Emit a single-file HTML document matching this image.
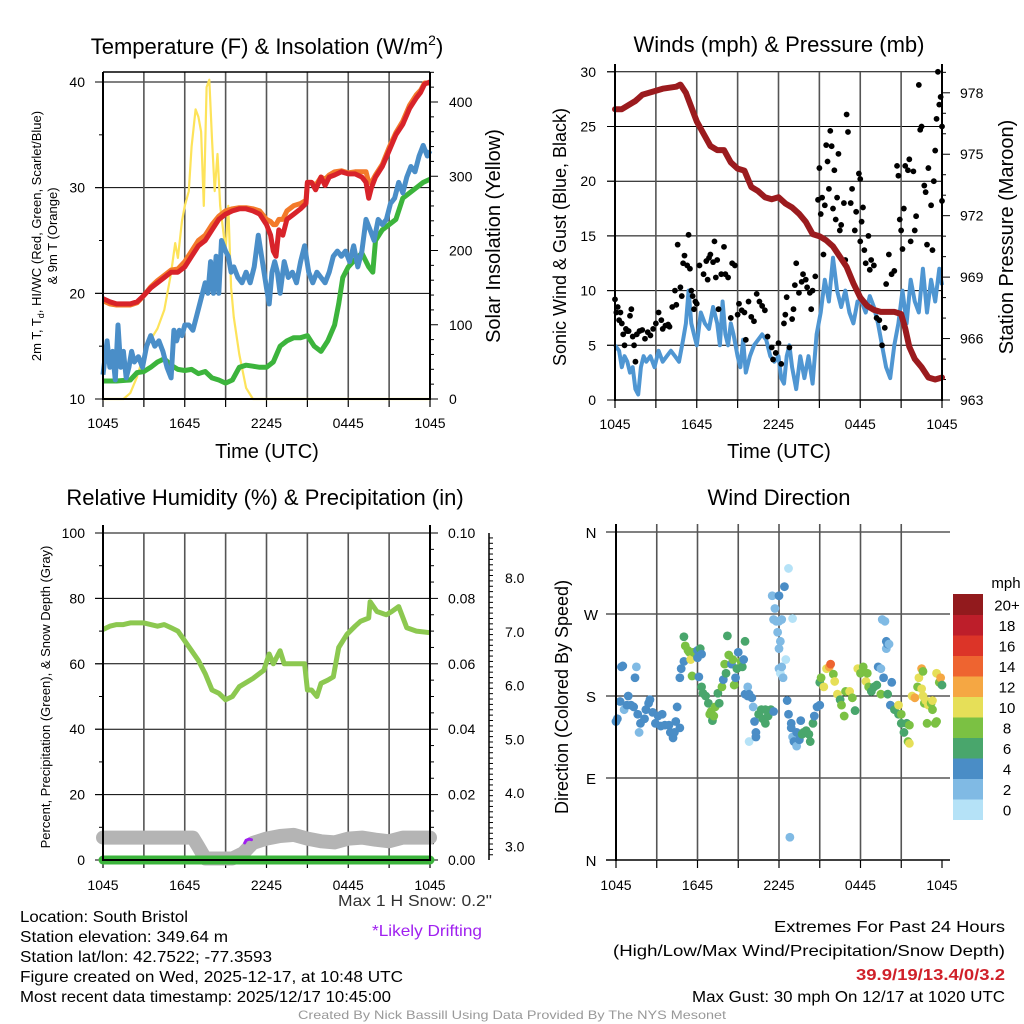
<!DOCTYPE html>
<html><head><meta charset="utf-8"><style>
html,body{margin:0;padding:0;background:#fff;}
svg{display:block;font-family:"Liberation Sans",Arial,sans-serif;}
</style></head><body>
<svg id="fig" width="1024" height="1024" viewBox="0 0 1024 1024" xmlns="http://www.w3.org/2000/svg">
<rect width="1024" height="1024" fill="#fff"/>
<g id="g1"></g>
<g id="g2"></g>
<g id="g3"></g>
<g id="g4"></g>
<g id="foot">
<text x="20" y="922" font-size="16" textLength="168" lengthAdjust="spacingAndGlyphs">Location: South Bristol</text>
<text x="20" y="942" font-size="16" textLength="208" lengthAdjust="spacingAndGlyphs">Station elevation: 349.64 m</text>
<text x="20" y="962" font-size="16" textLength="252" lengthAdjust="spacingAndGlyphs">Station lat/lon: 42.7522; -77.3593</text>
<text x="20" y="982" font-size="16" textLength="383" lengthAdjust="spacingAndGlyphs">Figure created on Wed, 2025-12-17, at 10:48 UTC</text>
<text x="20" y="1002" font-size="16" textLength="371" lengthAdjust="spacingAndGlyphs">Most recent data timestamp: 2025/12/17 10:45:00</text>
<text x="492" y="906" font-size="16" text-anchor="end" fill="#333" textLength="154" lengthAdjust="spacingAndGlyphs">Max 1 H Snow: 0.2"</text>
<text x="427" y="936" font-size="16" text-anchor="middle" fill="#a020f0" textLength="110" lengthAdjust="spacingAndGlyphs">*Likely Drifting</text>
<text x="1005" y="932" font-size="16" text-anchor="end" textLength="231" lengthAdjust="spacingAndGlyphs">Extremes For Past 24 Hours</text>
<text x="1005" y="956" font-size="16" text-anchor="end" textLength="392" lengthAdjust="spacingAndGlyphs">(High/Low/Max Wind/Precipitation/Snow Depth)</text>
<text x="1005" y="980" font-size="16" font-weight="bold" fill="#d0212a" text-anchor="end" textLength="149" lengthAdjust="spacingAndGlyphs">39.9/19/13.4/0/3.2</text>
<text x="1005" y="1002" font-size="16" text-anchor="end" textLength="313" lengthAdjust="spacingAndGlyphs">Max Gust: 30 mph On 12/17 at 1020 UTC</text>
<text x="512" y="1019" font-size="12" fill="#999" text-anchor="middle" textLength="428" lengthAdjust="spacingAndGlyphs">Created By Nick Bassill Using Data Provided By The NYS Mesonet</text>
</g>
</svg>
<script>
// ---------- DATA ----------
const xTickLabels = ["1045","1645","2245","0445","1045"];
// Panel 1
const tHours = [0,0.5,1,1.5,2,2.5,3,3.5,4,4.5,5,5.5,6,6.5,7,7.5,8,8.5,9,9.5,10,10.5,11,11.5,12,12.3,12.5,12.7,12.9,13.2,13.5,14,14.5,14.9,15,15.3,15.6,16,16.3,16.6,17,17.5,18,18.5,19,19.3,19.5,19.7,20,20.5,21,21.5,22,22.5,23,23.3,23.6,24];
const temp2m = [19.5,19.2,19,19,19,19.2,19.8,20.5,21,21.5,22,22,22.5,23.5,24.5,25,26,27,27.5,27.8,28,28,27.8,27.5,26.5,25.5,24,23.5,26,25.5,27,27.5,28,28.5,30.5,30.5,29.8,31,30.2,31,31.2,31.5,31.3,31.3,31,30.5,29,30,31,32,33.5,35,36,37.5,38.5,39,39.8,40];
const temp9m = [19.3,19,18.9,18.9,18.9,19.1,19.8,20.6,21.2,21.7,22.2,22.3,23,24,25,25.5,26.5,27.3,27.8,28,28.1,28.1,28,27.8,27,26.8,26.5,26.5,27,27,27.8,28.3,28.5,28.8,30.5,30.5,30.2,31,30.8,31.2,31.5,31.6,31.4,31.5,31.5,31.5,30.5,30.5,31.2,32.2,33.8,35.2,36.3,37.8,38.8,39.2,39.9,39.9];
const dHours = [0,1,2,2.5,3,3.5,4,4.5,5,5.5,6,6.5,7,7.5,8,8.5,9,9.5,10,10.5,11,11.5,12,12.5,13,13.5,14,14.5,15,15.5,16,16.5,17,17.3,17.6,18,18.5,19,19.5,19.8,20,20.5,21,21.5,22,22.5,23,23.5,24];
const dewpoint = [11.7,11.7,11.8,12.5,12.6,13,13.5,13.8,13.2,12.8,12.7,12.8,12.4,12.6,12,11.8,11.5,11.8,13,13.2,13.1,13,13,13.5,15,15.5,15.8,15.8,16,15,14.5,15.5,17,19,21.5,22.5,23.2,23.8,22.5,22,25,26,26.5,27,29,29.5,30,30.5,30.8];
const fHours = [0,0.3,0.5,0.7,0.9,1.1,1.3,1.5,1.7,1.9,2.1,2.3,2.6,2.9,3.2,3.5,3.8,4.1,4.4,4.7,5.0,5.2,5.4,5.6,5.8,6.0,6.3,6.6,6.9,7.2,7.5,7.7,7.9,8.1,8.3,8.5,8.7,9.0,9.2,9.4,9.6,9.9,10.2,10.5,10.8,11.1,11.4,11.7,12.0,12.2,12.4,12.6,12.8,13.0,13.3,13.6,13.9,14.2,14.5,14.8,15.1,15.4,15.7,16.0,16.3,16.6,16.9,17.2,17.5,17.8,18.1,18.4,18.7,19.0,19.3,19.6,19.9,20.2,20.5,20.8,21.1,21.4,21.7,22.0,22.3,22.6,22.9,23.2,23.5,23.8,24];
const windChill = [12.3,15.5,13,14.5,11.8,17,13,14.5,12,13,14.5,13.5,14,13,15,16,15,15.5,14.5,13,12,16.5,15.5,16.5,16,17,17,16.5,18,19.5,21,20,23,20,23.5,20,25,24,23.5,22,22.5,21.5,21,22,21,22.5,25.5,23,20.5,19,22,23,22,20,23,21.5,22,21,23,24.5,22,21,22,21.5,21,22,23.5,24,23.5,24,23,24.5,22.5,24,27,26,25,27,26.5,27,28.5,29,30.5,29.5,31,32,31.5,33,34,33,33.5];
const sHours = [0,1.5,2,2.5,3,3.5,4,4.5,5,5.3,5.5,5.8,6,6.3,6.5,6.8,7,7.2,7.4,7.6,7.8,8,8.2,8.4,8.6,8.8,9,9.2,9.4,9.6,10,10.5,11,24];
const solar = [0,0,8,30,60,80,95,120,170,210,190,240,260,280,340,390,380,360,260,420,430,350,280,330,260,230,200,260,150,110,60,15,0,0];
// Panel 2
const windSpeed = [5,4.5,3,4,3.5,2.5,3,1,0.5,3,4,3.5,4,3,4.5,3.5,4,4.5,4,3.5,5.5,7,10,7,6,5,8,7,6.5,8.5,7,5,9,6,5,7,6,4,3,5.5,2.5,4,5,5.5,6,5.5,4,3.5,4,2,1.5,4,5,3,1,4,2,4,1.5,6,8,11,9,13,10,8.5,10,8,7,9,9,8,9.5,8.5,7,5,3,2,5,7,10,7,11,9,8,12,8,11,9,12,10.5];
const gustHours = [0,0.1,0.2,0.3,0.4,0.5,0.6,0.7,0.8,0.9,1.0,1.1,1.2,1.3,1.4,1.5,1.6,1.8,2.0,2.2,2.4,2.6,2.8,3.0,3.2,3.4,3.5,3.7,3.9,4.0,4.2,4.4,4.5,4.6,4.8,4.9,5.0,5.1,5.3,5.4,5.5,5.6,5.7,5.8,5.9,6.0,6.2,6.5,6.7,6.8,6.9,7.0,7.2,7.3,7.4,7.5,7.6,7.8,8.0,8.1,8.3,8.5,8.6,8.8,9.0,9.1,9.3,9.5,9.6,9.8,10,10.2,10.4,10.6,10.8,11,11.2,11.5,11.6,11.8,12.0,12.2,12.4,12.5,12.6,12.8,13.0,13.1,13.2,13.3,13.5,13.7,13.8,14.0,14.1,14.3,14.4,14.5,14.7,14.9,15.0,15.1,15.2,15.3,15.4,15.5,15.6,15.7,15.8,15.9,16.0,16.1,16.2,16.3,16.4,16.5,16.6,16.8,16.9,17.0,17.1,17.3,17.4,17.6,17.7,17.9,18.0,18.0,18.1,18.2,18.3,18.4,18.6,18.7,18.8,19.0,19.2,19.4,19.6,19.8,19.9,20.1,20.3,20.5,20.7,20.8,20.9,21.0,21.1,21.2,21.3,21.5,21.6,21.7,21.9,22.0,22.1,22.3,22.4,22.5,22.7,22.8,22.9,23.0,23.2,23.3,23.4,23.5,23.6,23.7,23.8,23.9,24.0,24.0];
const gustVals = [9.2,8,8.5,7.3,8,7,6,5,6.5,6.3,6.3,7.7,8.3,5.8,5,3.5,6,6.3,6.4,5.6,6.2,5.9,6.5,7,8,7.3,6.5,6.8,6.9,6.7,8.5,10,8.7,14.2,10.3,9.5,12.5,13.2,12.3,15.1,12,10,9.5,8.3,9,8.8,12.3,11.5,12.7,11,13,13.3,12.6,14.5,11.2,12.8,8.3,11.5,14,11.5,11.2,7.5,12.5,12.3,7.8,8.8,8.2,8,5.5,9,7.6,7.2,9.7,9,8.6,8.2,5.8,4.8,3.7,4.3,5.2,3.3,7,7.8,9.4,4.8,7.4,8.3,10.5,12.5,9.8,10.8,11.5,11,10.3,9.8,8.3,10,11.3,18.3,21.2,17,18.5,13.3,17.8,23.3,21.8,19.3,24.6,23.2,17.5,21,16.5,18.5,22.5,15.5,16,18,12.8,26.1,24.5,18,19.3,15.5,17.2,20.7,20.2,14.5,16.3,17.6,13.7,12.5,15,11.9,12.8,12.3,7.5,7.3,5,6.6,10.6,13.3,11.5,11.8,21.4,20.5,16.5,15.5,13.8,17.5,21.4,21,22,14.5,20.9,15.5,16.8,28.8,24.7,25,19.6,19,14.2,21.2,17.8,13.7,20,22.8,25.7,30,27,27.7,25,18.2];
const pHours = [0,0.5,1,1.5,2,2.5,3,3.5,4,4.5,4.8,5.2,5.6,6,6.5,7,7.5,8,8.5,9,9.5,10,10.5,11,11.5,12,12.5,13,13.5,14,14.5,15,15.5,16,16.5,17,17.5,18,18.5,19,19.5,20,20.5,21,21.3,21.6,22,22.5,23,23.5,24];
const pressure = [977.2,977.2,977.4,977.6,977.9,978,978.1,978.2,978.25,978.3,978.4,978,977.3,976.6,976,975.4,975.2,975.2,974.6,974.3,974.2,973.4,973.2,972.9,972.8,972.9,972.6,972.4,972.1,971.7,971.1,971,970.8,970.5,970,969.5,968.7,968,967.6,967.4,967.3,967.3,967.3,967.2,966.5,965.6,965,964.6,964.1,964,964.1];
// Panel 3
const rhHours = [0,0.5,1,1.5,2,2.5,3,3.5,4,4.5,5,5.5,6,6.5,7,7.5,8,8.5,9,9.5,10,11,11.8,12.2,12.5,13,13.3,13.6,14,14.8,15,15.3,15.7,16,16.5,16.9,17.3,17.9,18.5,18.9,19.5,19.6,20.1,20.8,21.2,21.7,22.3,23,24];
const rh = [70.5,71.5,72,72,72.5,72.5,72.5,72,71.5,72,71,70,67,64,61,57,52,51,49,50,53,55.5,58,63,60,64,60,60,60,60,52,52,50,54,55,56,65,69,71.5,73,74,79,76,75,76,77.5,71,70,69.5];
const snowHours = [0,6.6,7.0,7.5,9.5,10.3,11,12,13,14,15,16,17,18,19,20,21,22,24];
const snowDepth = [3.17,3.17,3.0,2.78,2.78,2.88,3.07,3.15,3.2,3.22,3.15,3.1,3.08,3.15,3.17,3.13,3.1,3.17,3.17];
const driftHours = [10.4,10.5,10.7,10.9];
const driftDepth = [3.07,3.12,3.14,3.13];
const precipHours = [0,24];
const precip = [0,0];
// Panel 4
const dirHours = [0.0,0.1,0.3,0.4,0.5,0.6,0.8,0.9,1.1,1.3,1.4,1.5,1.6,1.8,1.7,2.1,2.2,2.4,2.5,2.7,2.9,3.1,3.3,3.4,3.6,3.9,4.0,4.2,4.3,4.4,4.5,4.7,4.7,4.8,5.0,5.0,5.1,5.3,5.4,5.5,5.6,5.7,5.9,6.0,6.0,6.2,6.3,6.1,6.3,6.4,6.6,6.8,6.9,7.0,7.1,7.3,7.5,7.6,7.2,7.8,7.9,8.1,8.0,8.3,8.2,8.5,8.6,8.7,8.8,8.9,9.0,9.2,9.3,9.4,9.5,9.7,9.5,9.7,9.8,10.0,10.1,10.2,10.3,9.8,10.3,10.5,10.7,10.8,11.0,11.2,11.4,11.6,11.0,11.5,11.7,11.6,11.8,12.0,12.2,12.0,11.9,12.0,12.0,12.1,12.2,12.3,12.1,12.4,12.5,12.7,13.0,12.8,12.6,12.7,12.9,12.9,13.0,13.1,13.3,13.5,13.3,13.6,13.7,13.8,14.0,14.2,14.3,14.5,14.6,14.8,15.0,15.0,15.1,15.3,15.5,15.7,15.8,16.0,16.1,16.3,16.5,16.6,16.8,16.9,17.2,17.4,17.6,17.8,18.0,18.2,18.4,18.6,18.8,19.0,19.2,18.5,19.5,19.3,19.5,19.6,19.8,19.9,19.9,20.0,20.1,19.7,20.3,20.0,20.2,20.5,20.8,21.0,21.2,21.5,21.4,21.6,21.0,20.8,21.6,21.8,22.0,22.2,22.3,22.5,22.6,22.7,22.8,22.9,23.0,23.2,23.3,23.5,23.6,22.5,22.6,23.6,23.8,23.9,24.0,23.3];
const dirDeg = [152,155,174,212,213,165,170,180,170,168,200,212,160,150,140,155,165,172,176,162,150,158,147,160,148,148,140,134,140,152,168,145,200,210,218,245,235,230,228,220,202,228,226,222,230,232,226,201,190,183,180,172,160,163,153,168,183,172,158,190,198,205,215,225,246,215,220,192,200,210,228,218,212,220,182,180,240,190,182,178,168,152,140,130,135,160,165,155,150,158,165,163,165,290,276,264,262,262,264,290,250,232,210,205,212,200,240,300,220,320,265,25,175,160,150,145,135,130,125,132,140,153,138,140,142,138,130,150,158,168,170,195,200,190,210,212,215,204,196,182,176,170,158,185,185,178,164,210,205,212,196,190,185,190,192,205,182,212,210,264,262,232,240,237,237,200,195,182,170,165,160,150,140,130,150,148,160,170,128,180,178,190,200,188,180,172,175,150,170,172,165,150,152,210,207,205,195,200,192,175];
const dirSpeed = [4,4,4,4,4,2,4,4,4,4,4,2,4,4,2,4,4,4,4,4,4,4,4,4,4,4,4,4,4,4,4,4,4,4,4,6,8,8,8,10,8,8,8,4,4,6,4,4,6,6,6,6,8,8,6,8,6,6,8,8,4,6,8,8,6,4,8,8,4,6,4,8,6,4,4,4,6,2,4,4,2,4,4,0,4,6,6,6,6,6,6,4,6,2,2,2,2,2,2,4,2,2,2,0,2,2,2,4,0,0,0,2,4,4,4,4,2,4,2,4,4,4,6,6,6,6,6,6,4,4,4,6,8,10,10,12,14,8,10,10,6,8,8,8,10,8,6,10,8,8,10,8,6,6,6,8,8,4,2,2,2,2,4,4,2,4,4,6,4,6,6,6,6,8,6,8,8,10,10,10,12,8,10,10,10,8,10,8,10,8,8,8,8,12,8,10,8,12,6,10];
const cbLabels = ["0","2","4","6","8","10","12","14","16","18","20+"];
const cbColors = ["#b5e2f7","#80bae4","#4a8dc6","#49a66c","#7bc143","#e6df58","#f5a743","#ee6430","#dc3428","#bd1e2a","#921a1d"];

// ---------- HELPERS ----------
const NS = "http://www.w3.org/2000/svg";
function mk(parent, tag, attrs, name){
  const e = document.createElementNS(NS, tag);
  for (const k in attrs) e.setAttribute(k, attrs[k]);
  
  
  parent.appendChild(e);
  return e;
}
function txt(parent, x, y, s, size, anchor, name, extra){
  const t = mk(parent, 'text', Object.assign({x:x, y:y, 'font-size':size, 'text-anchor':anchor||'start', fill:'#000'}, extra||{}), name);
  t.textContent = s;
  return t;
}
function vtxt(parent, x, y, s, size, name, extra){
  const t = mk(parent, 'text', Object.assign({x:0, y:0, 'font-size':size, 'text-anchor':'middle', transform:'translate('+x+','+y+') rotate(-90)'}, extra||{}), name);
  t.textContent = s;
  return t;
}
function pathFrom(xs, ys, sx, sy){
  let d = '';
  const n = Math.min(xs.length, ys.length);
  for (let i=0;i<n;i++) d += (i?'L':'M') + sx(xs[i]).toFixed(1) + ',' + sy(ys[i]).toFixed(1);
  return d;
}
function timeAxis(g, X0, X1, Y0, Ytop, labY){
  const sx = h => X0 + h/24*(X1-X0);
  for (let h=3; h<24; h+=3){
    mk(g,'line',{x1:sx(h),y1:Ytop,x2:sx(h),y2:Y0,stroke:'#555','stroke-width':1.6},'vertical-gridline');
  }
  for (let h=0; h<=24; h+=3){
    mk(g,'line',{x1:sx(h),y1:Y0,x2:sx(h),y2:Y0+8,stroke:'#000','stroke-width':1.2},'x-tick');
  }
  for (let i=0;i<xTickLabels.length;i++){
    txt(g, sx(i*6), labY, xTickLabels[i], 14, 'middle', 'x-tick-label');
  }
  return sx;
}

// ---------- PANEL 1 ----------
(function(){
  const g = document.getElementById('g1');
  const X0=103, X1=430, Y0=399, Yt=72;
  const sy = v => 399 - (v-10)*10.567;
  const sr = v => 399 - v*0.7425;
  txt(g, 267, 54, 'Temperature (F) & Insolation (W/m', 22, 'middle', 'chart-title-temperature').innerHTML = 'Temperature (F) &amp; Insolation (W/m<tspan dy="-9" font-size="14">2</tspan><tspan dy="9">)</tspan>';
  [20,30,40].forEach(v=>mk(g,'line',{x1:X0-8,y1:sy(v),x2:X1,y2:sy(v),stroke:'#000','stroke-width':1},'horizontal-gridline'));
  const sx = timeAxis(g, X0, X1, Y0, Yt, 428);
  [10,20,30,40].forEach(v=>{ mk(g,'line',{x1:X0-8,y1:sy(v),x2:X0,y2:sy(v),stroke:'#000'},'y-tick'); txt(g, 85, sy(v)+5, String(v), 14, 'end', 'y-tick-label'); });
  [15,25,35].forEach(v=>mk(g,'line',{x1:X0-4,y1:sy(v),x2:X0,y2:sy(v),stroke:'#000'},'y-minor-tick'));
  for (let v=0; v<=440; v+=20){ const big=v%100===0; mk(g,'line',{x1:X1,y1:sr(v),x2:X1+(big?8:4),y2:sr(v),stroke:'#000'},'right-tick'); }
  [0,100,200,300,400].forEach(v=>txt(g, 449, sr(v)+5, String(v), 14, 'start', 'right-tick-label'));
  mk(g,'path',{d:pathFrom(sHours, solar, sx, sr),fill:'none',stroke:'#fde35a','stroke-width':2.2,'stroke-linejoin':'round'},'solar-insolation-line');
  mk(g,'path',{d:pathFrom(dHours, dewpoint, sx, sy),fill:'none',stroke:'#3cb43c','stroke-width':5,'stroke-linejoin':'round'},'dewpoint-line');
  mk(g,'path',{d:pathFrom(fHours, windChill, sx, sy),fill:'none',stroke:'#4a8ec8','stroke-width':5,'stroke-linejoin':'round'},'wind-chill-line');
  mk(g,'path',{d:pathFrom(tHours, temp9m, sx, sy),fill:'none',stroke:'#f37a2a','stroke-width':5,'stroke-linejoin':'round'},'temp-9m-line');
  mk(g,'path',{d:pathFrom(tHours, temp2m, sx, sy),fill:'none',stroke:'#d8232a','stroke-width':5,'stroke-linejoin':'round'},'temp-2m-line');
  mk(g,'line',{x1:X0,y1:Yt,x2:X1,y2:Yt,stroke:'#000','stroke-width':1.5},'frame-top');
  mk(g,'line',{x1:X0,y1:Y0,x2:X1,y2:Y0,stroke:'#000','stroke-width':2},'frame-bottom');
  mk(g,'line',{x1:X0,y1:Yt,x2:X0,y2:Y0+1,stroke:'#000','stroke-width':2},'frame-left');
  mk(g,'line',{x1:X1,y1:Yt,x2:X1,y2:Y0+1,stroke:'#000','stroke-width':2},'frame-right');
  const yl = mk(g,'text',{x:0,y:0,'font-size':13,'text-anchor':'middle',transform:'translate(41,236) rotate(-90)'},'y-axis-title-temperature');
  yl.innerHTML = '2m T, T<tspan dy="3" font-size="9">d</tspan><tspan dy="-3">, HI/WC (Red, Green, Scarlet/Blue)</tspan>';
  vtxt(g, 57, 236, '& 9m T (Orange)', 13, 'y-axis-title-temperature-2');
  vtxt(g, 500, 236, 'Solar Insolation (Yellow)', 20, 'y-axis-title-solar');
  txt(g, 267, 458, 'Time (UTC)', 20, 'middle', 'x-axis-title');
})();

// ---------- PANEL 2 ----------
(function(){
  const g = document.getElementById('g2');
  const X0=615, X1=942, Y0=400, Yt=72;
  const sy = v => 400 - v*10.94;
  const sp = v => 400 - (v-963)*20.48;
  txt(g, 779, 52, 'Winds (mph) & Pressure (mb)', 22, 'middle', 'chart-title-winds');
  [5,10,15,20,25,30].forEach(v=>mk(g,'line',{x1:X0-8,y1:sy(v),x2:X1,y2:sy(v),stroke:'#000','stroke-width':1},'horizontal-gridline'));
  const sx = timeAxis(g, X0, X1, Y0, Yt, 429);
  for (let v=0; v<=30; v+=5){ mk(g,'line',{x1:X0-8,y1:sy(v),x2:X0,y2:sy(v),stroke:'#000'},'y-tick'); txt(g, 596, sy(v)+5, String(v), 14, 'end', 'y-tick-label'); }
  for (let v=963; v<=979; v+=1){ const big=(v-963)%3===0; mk(g,'line',{x1:X1,y1:sp(v),x2:X1+(big?8:4),y2:sp(v),stroke:'#000'},'right-tick'); }
  [963,966,969,972,975,978].forEach(v=>txt(g, 960, sp(v)+5, String(v), 14, 'start', 'right-tick-label'));
  mk(g,'path',{d:pathFrom(fHours, windSpeed, sx, sy),fill:'none',stroke:'#4f96d2','stroke-width':4,'stroke-linejoin':'round'},'sonic-wind-line');
  for (let i=0;i<Math.min(gustHours.length,gustVals.length);i++){
    const c = document.createElementNS(NS,'circle');
    c.setAttribute('cx', sx(gustHours[i])); c.setAttribute('cy', sy(gustVals[i])); c.setAttribute('r', 2.9); c.setAttribute('fill','#000');
    
    
    g.appendChild(c);
  }
  mk(g,'path',{d:pathFrom(pHours, pressure, sx, sp),fill:'none',stroke:'#9b1b1e','stroke-width':6,'stroke-linejoin':'round','stroke-linecap':'round'},'pressure-line');
  mk(g,'line',{x1:X0,y1:Y0,x2:X1,y2:Y0,stroke:'#000','stroke-width':1.5},'frame-bottom');
  mk(g,'line',{x1:X0,y1:Yt-8,x2:X0,y2:Y0+1,stroke:'#000','stroke-width':2},'frame-left');
  mk(g,'line',{x1:X1,y1:Yt-8,x2:X1,y2:Y0+1,stroke:'#000','stroke-width':2},'frame-right');
  vtxt(g, 566, 237, 'Sonic Wind & Gust (Blue, Black)', 18, 'y-axis-title-wind');
  vtxt(g, 1013, 237, 'Station Pressure (Maroon)', 20, 'y-axis-title-pressure');
  txt(g, 779, 458, 'Time (UTC)', 20, 'middle', 'x-axis-title');
})();

// ---------- PANEL 3 ----------
(function(){
  const g = document.getElementById('g3');
  const X0=103, X1=430, Y0=860, Yt=533;
  const sy = v => 860 - v*3.27;
  const s3 = v => 846.7 - (v-3)*53.7;
  txt(g, 265, 505, 'Relative Humidity (%) & Precipitation (in)', 22, 'middle', 'chart-title-humidity');
  [20,40,60,80,100].forEach(v=>mk(g,'line',{x1:X0-8,y1:sy(v),x2:X1,y2:sy(v),stroke:'#000','stroke-width':1},'horizontal-gridline'));
  const sx = timeAxis(g, X0, X1, Y0, Yt, 890);
  for (let v=0; v<=100; v+=10){ const big=v%20===0; mk(g,'line',{x1:X0-(big?8:4),y1:sy(v),x2:X0,y2:sy(v),stroke:'#000'},'y-tick'); if(big) txt(g, 85, sy(v)+5, String(v), 14, 'end', 'y-tick-label'); }
  for (let v=0; v<=100; v+=5){ const big=v%20===0; mk(g,'line',{x1:X1,y1:sy(v),x2:X1+(big?8:4),y2:sy(v),stroke:'#000'},'right-tick'); }
  ['0.00','0.02','0.04','0.06','0.08','0.10'].forEach((s,i)=>txt(g, 448, sy(i*20)+5, s, 14, 'start', 'precip-tick-label'));
  mk(g,'line',{x1:489,y1:Yt,x2:489,y2:Y0,stroke:'#000','stroke-width':1.5},'snow-axis-line');
  for (let v=2.75; v<=9.1; v+=0.1){ const y=s3(v); if (y<Yt||y>Y0) continue; const big=Math.abs(v-Math.round(v))<0.01; mk(g,'line',{x1:489,y1:y,x2:489+(big?8:4),y2:y,stroke:'#000'},'snow-tick'); }
  ['3.0','4.0','5.0','6.0','7.0','8.0'].forEach((s,i)=>txt(g, 505, s3(3+i)+5, s, 14, 'start', 'snow-tick-label'));
  mk(g,'path',{d:pathFrom(rhHours, rh, sx, sy),fill:'none',stroke:'#8cc850','stroke-width':5,'stroke-linejoin':'round'},'relative-humidity-line');
  mk(g,'path',{d:pathFrom(snowHours, snowDepth, sx, s3),fill:'none',stroke:'#b4b4b4','stroke-width':14,'stroke-linejoin':'round','stroke-linecap':'round'},'snow-depth-line');
  mk(g,'path',{d:pathFrom(precipHours, precip, sx, sy),fill:'none',stroke:'#3cb43c','stroke-width':9,'stroke-linecap':'round'},'precipitation-line');
  mk(g,'path',{d:pathFrom(driftHours, driftDepth, sx, s3),fill:'none',stroke:'#a020f0','stroke-width':3,'stroke-linecap':'round'},'drifting-snow-line');
  mk(g,'line',{x1:X0,y1:Y0,x2:X1,y2:Y0,stroke:'#000','stroke-width':2},'frame-bottom');
  mk(g,'line',{x1:X0,y1:Yt-8,x2:X0,y2:Y0+1,stroke:'#000','stroke-width':2},'frame-left');
  mk(g,'line',{x1:X1,y1:Yt-8,x2:X1,y2:Y0+1,stroke:'#000','stroke-width':2},'frame-right');
  vtxt(g, 50, 697, 'Percent, Precipitation (Green), & Snow Depth (Gray)', 13, 'y-axis-title-humidity');
})();

// ---------- PANEL 4 ----------
(function(){
  const g = document.getElementById('g4');
  const X0=616, X1=942, Y0=860, Yt=532;
  const sy = d => 860 - d*0.9111;
  txt(g, 779, 505, 'Wind Direction', 22, 'middle', 'chart-title-direction');
  [90,180,270,360].forEach(v=>mk(g,'line',{x1:X0-10,y1:sy(v),x2:X1+8,y2:sy(v),stroke:'#000','stroke-width':1},'horizontal-gridline'));
  mk(g,'line',{x1:X0-10,y1:Y0,x2:X1+8,y2:Y0,stroke:'#000','stroke-width':1.5},'frame-bottom');
  const sx = timeAxis(g, X0, X1, Y0, Yt-8, 890);
  ['N','E','S','W','N'].forEach((s,i)=>txt(g, 591, sy(i*90)+6, s, 15, 'middle', 'direction-tick-label'));
  for (let i=0;i<Math.min(dirHours.length,dirDeg.length,dirSpeed.length);i++){
    const bin = Math.min(10, Math.floor(dirSpeed[i]/2));
    const c = document.createElementNS(NS,'circle');
    c.setAttribute('cx', sx(dirHours[i])); c.setAttribute('cy', sy(dirDeg[i])); c.setAttribute('r', 4.4); c.setAttribute('fill', cbColors[bin]);
    
    
    g.appendChild(c);
  }
  mk(g,'line',{x1:X0,y1:Yt-8,x2:X0,y2:Y0+1,stroke:'#000','stroke-width':2},'frame-left');
  vtxt(g, 568, 697, 'Direction (Colored By Speed)', 18, 'y-axis-title-direction');
  const cbTop=594, cbH=20.5;
  for (let i=0;i<cbColors.length;i++){
    const y = cbTop + (10-i)*cbH;
    mk(g,'rect',{x:953,y:y,width:30,height:cbH+0.5,fill:cbColors[i]},'colorbar-bin');
    txt(g, 1007, y+cbH/2+6, cbLabels[i], 15, 'middle', 'colorbar-label');
  }
  txt(g, 1006, 588, 'mph', 15, 'middle', 'colorbar-title');
})();
</script>
</body></html>
